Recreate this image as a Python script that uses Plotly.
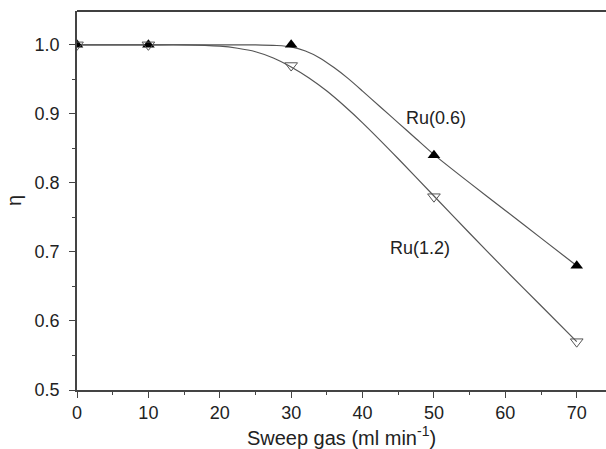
import plotly.graph_objects as go

# measured points
x_pts = [0, 10, 30, 50, 70]
ru06_pts = [1.0, 1.0, 1.0, 0.84, 0.68]
ru12_pts = [1.0, 1.0, 0.97, 0.78, 0.57]

# fitted curves
x_fit06 = [0, 10, 20, 25, 28, 30, 32, 34, 36, 38, 40, 42.5, 45, 47.5, 50, 55, 60, 65, 70]
y_fit06 = [1.0, 1.0, 1.0, 1.0, 0.999, 0.997, 0.991, 0.981, 0.967, 0.951, 0.933, 0.91, 0.887, 0.864, 0.841, 0.80, 0.76, 0.72, 0.68]
x_fit12 = [0, 10, 15, 20, 22.5, 25, 27.5, 30, 32.5, 35, 37.5, 40, 45, 50, 55, 60, 65, 70]
y_fit12 = [1.0, 1.0, 1.0, 0.998, 0.995, 0.99, 0.981, 0.968, 0.952, 0.933, 0.911, 0.887, 0.835, 0.781, 0.727, 0.674, 0.622, 0.57]

FONT = "Liberation Sans, Arial, sans-serif"

fig = go.Figure()
fig.add_trace(go.Scatter(x=x_fit06, y=y_fit06, mode="lines", line=dict(color="#555555", width=1.2, shape="spline", smoothing=0.6), hoverinfo="skip"))
fig.add_trace(go.Scatter(x=x_fit12, y=y_fit12, mode="lines", line=dict(color="#555555", width=1.2, shape="spline", smoothing=0.6), hoverinfo="skip"))
fig.add_trace(go.Scatter(x=x_pts, y=ru06_pts, mode="markers", name="Ru(0.6)",
                         marker=dict(symbol="triangle-up", size=11, color="black", line=dict(width=0))))
fig.add_trace(go.Scatter(x=x_pts, y=ru12_pts, mode="markers", name="Ru(1.2)",
                         marker=dict(symbol="triangle-down-open", size=11, color="#555555", line=dict(width=1))))

fig.add_annotation(x=50.3, y=0.894, text="Ru(0.6)", showarrow=False, font=dict(size=18, color="#222"))
fig.add_annotation(x=48.0, y=0.706, text="Ru(1.2)", showarrow=False, font=dict(size=18, color="#222"))

fig.add_shape(type="line", xref="paper", yref="paper", x0=0, x1=1, y0=1, y1=1, line=dict(color="black", width=1.5))

fig.update_layout(
    width=606, height=449,
    margin=dict(l=77, r=0, t=11, b=59),
    paper_bgcolor="white", plot_bgcolor="white",
    showlegend=False,
    font=dict(family=FONT, size=18, color="#222"),
)
fig.update_xaxes(range=[0, 74.1], showgrid=False, zeroline=False, showline=True, linecolor="#444", linewidth=1.5,
                 ticks="outside", ticklen=6, tickwidth=1.2, tickcolor="#444", dtick=10, tick0=0,
                 minor=dict(ticks="outside", ticklen=3, dtick=5, tickcolor="#444", showgrid=False),
                 title=dict(text="Sweep gas (ml min<sup>-1</sup>)", standoff=8, font=dict(size=20)),
                 tickfont=dict(size=18))
fig.update_yaxes(range=[0.5, 1.049], showgrid=False, zeroline=False, showline=True, linecolor="#444", linewidth=1.5,
                 ticks="outside", ticklen=6, tickwidth=1.2, tickcolor="#444", dtick=0.1, tick0=0.5, tickformat=".1f",
                 minor=dict(ticks="outside", ticklen=3, dtick=0.05, tickcolor="#444", showgrid=False),
                 ticklabelstandoff=6,
                 title=dict(text="η", standoff=8, font=dict(size=20)),
                 tickfont=dict(size=18))

fig.write_html("out.html")
